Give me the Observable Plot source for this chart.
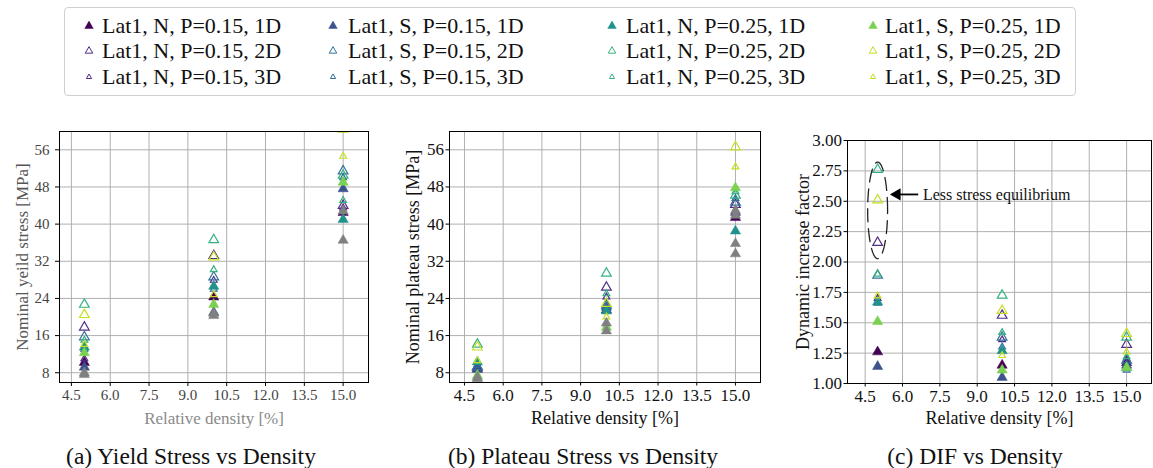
<!DOCTYPE html>
<html><head><meta charset="utf-8">
<script src="https://cdn.jsdelivr.net/npm/d3@7"></script>
<script src="https://cdn.jsdelivr.net/npm/@observablehq/plot@0.6"></script>
<style>
body{margin:0;background:#fff;}
#fig{position:relative;width:1153px;height:468px;overflow:hidden;font-family:"Liberation Serif","Times New Roman",serif;background:#fff;}
#fig svg text{font-family:"Liberation Serif","Times New Roman",serif;}
#legend{position:absolute;left:64px;top:7px;width:1012px;height:89px;border:1px solid #d0d0d0;border-radius:4px;box-sizing:border-box;}
.li{position:absolute;display:flex;align-items:center;height:24px;font-size:22px;color:#111;white-space:nowrap;}
.li svg{flex:none;}
.cap{position:absolute;top:443px;font-size:23.5px;color:#111;white-space:nowrap;transform:translateX(-50%);}
</style></head><body><div id="fig"><div id="legend"></div></div>
<script>
// ---------- data ----------
const densities = [5, 10, 15];                       // relative density [%]
const xTicks = [4.5, 6.0, 7.5, 9.0, 10.5, 12.0, 13.5, 15.0];
const stressTicks = [8, 16, 24, 32, 40, 48, 56];
const difTicks = [1.0, 1.25, 1.5, 1.75, 2.0, 2.25, 2.5, 2.75, 3.0];
const groups = ["Lat1, N, P=0.15", "Lat1, S, P=0.15", "Lat1, N, P=0.25", "Lat1, S, P=0.25"];
const dims = ["1D", "2D", "3D"];
// series index = group*3 + dim  (N015 1D,2D,3D, S015 1D,2D,3D, N025 ..., S025 ...)
const yieldD5  = [10.2, 17.8, 11.0,   9.2, 15.7, 13.0,  13.5, 22.7, 15.0,  12.3, 20.5, 14.1];
const yieldD10 = [24.3, 33.2, 27.9,  21.0, 28.6, 26.0,  26.6, 36.6, 30.2,  22.7, 32.9, 24.8];
const yieldD15 = [42.5, 44.0, 43.5,  47.6, 51.4, 50.0,  41.0, 50.5, 45.1,  49.0, 60.4, 54.6];
const yieldGray = [[8.0, 7.6], [20.3, 20.8], [42.8, 36.5]];
const plateauD5  = [8.9, 9.2, 9.0,   8.7, 9.3, 9.6,   10.3, 14.1, 10.5,  7.4, 13.5, 10.6];
const plateauD10 = [21.5, 26.4, 24.3, 22.1, 22.5, 21.8, 21.3, 29.4, 25.0, 17.8, 22.9, 20.0];
const plateauD15 = [41.4, 44.2, 43.0, 42.5, 44.7, 45.5, 38.5, 46.2, 47.0, 47.8, 56.6, 52.3];
const plateauGray = [[6.7, 7.0], [18.7, 17.0], [42.9, 41.9, 35.8, 33.6]];
const difD5  = [1.26, 2.16, 1.70,  1.14, 1.89, 1.66,  1.67, 2.76, 1.90,  1.51, 2.51, 1.72];
const difD10 = [1.15, 1.56, 1.36,  1.05, 1.38, 1.30,  1.27, 1.726, 1.42, 1.11, 1.60, 1.23];
const difD15 = [1.17, 1.32, 1.20,  1.15, 1.19, 1.11,  1.13, 1.38, 1.22,  1.13, 1.41, 1.26];
const annotationText = "Less stress equilibrium";
const annEllipse = {cx: 5, cy: 2.425, rx: 0.40, ry: 0.397};
const annArrow = {x1: 6.63, x2: 5.62, y: 2.556, tx: 6.82};

// ---------- styles ----------
const filledColors = ["#440154", "#3b528b", "#21918c", "#7ad151"];
const hollowColors = ["#522d88", "#32709b", "#35b27f", "#c6df22"];
const grayColor = "#808080";
const serif = "Liberation Serif, Times New Roman, serif";

const fig = document.getElementById("fig");

// legend
const legend = document.getElementById("legend");
const colMarkerX = [88, 332, 611, 872];
const colTextX = [101, 347, 625, 884];
const rowY = [25, 50, 76];
const legendWidths = [8.5, 7.5, 5.2];
function triPath(w) { const y = w / (2 * Math.sqrt(3)); return d3.symbol(d3.symbolTriangle, 3 * Math.sqrt(3) * y * y)(); }
groups.forEach((g, gi) => dims.forEach((dm, di) => {
  const item = document.createElement("div");
  item.className = "li";
  item.style.left = (colMarkerX[gi] - 64 - 7) + "px";
  item.style.top = (rowY[di] - 7 - 12) + "px";
  const filled = di === 0;
  const c = filled ? filledColors[gi] : hollowColors[gi];
  item.innerHTML = `<svg width="14" height="14" viewBox="-7 -7 14 14"><path d="${triPath(legendWidths[di])}" fill="${filled ? c : "none"}" stroke="${c}" stroke-width="${filled ? 0.5 : 1}"/></svg>` +
    `<span style="margin-left:${colTextX[gi] - colMarkerX[gi] - 7}px">${g}, ${dm}</span>`;
  legend.append(item);
}));

function makePanel(cfg) {
  const marks = [
    Plot.gridX(xTicks, {stroke: "#b0b0b0", strokeOpacity: 1, strokeWidth: 1}),
    Plot.gridY(cfg.yTicks, {stroke: "#b0b0b0", strokeOpacity: 1, strokeWidth: 1})
  ];
  for (let s = 0; s < 12; s++) {
    const g = Math.floor(s / 3), dim = s % 3;
    const data = densities.map((x, i) => ({x, y: cfg.values[i][s]}));
    const opts = {x: "x", y: "y", symbol: "triangle", clip: true};
    if (dim === 0) Object.assign(opts, {r: 3.8, fill: filledColors[g], stroke: filledColors[g], strokeWidth: 0.5});
    else Object.assign(opts, {r: dim === 1 ? 3.6 : 2.5, fill: "none", stroke: hollowColors[g], strokeWidth: 1.2});
    marks.push(Plot.dot(data, opts));
  }
  if (cfg.gray) {
    const data = cfg.gray.flatMap((arr, i) => arr.map(y => ({x: densities[i], y})));
    marks.push(Plot.dot(data, {x: "x", y: "y", symbol: "triangle", r: 3.8, fill: grayColor, stroke: grayColor, strokeWidth: 0.5, clip: true}));
  }
  if (cfg.extra) marks.push(...cfg.extra);
  marks.push(
    Plot.axisX(xTicks, {tickFormat: d => d.toFixed(1), tickSize: cfg.tickSize, tickPadding: cfg.xPad, fontSize: cfg.tickFont, fontFamily: serif, label: null, fill: cfg.tickColor, stroke: "black"}),
    Plot.axisY(cfg.yTicks, {tickFormat: cfg.yFormat, tickSize: cfg.tickSize, tickPadding: cfg.yPad, fontSize: cfg.tickFont, fontFamily: serif, label: null, fill: cfg.tickColor, stroke: "black"}),
    Plot.text([cfg.ylabel], {frameAnchor: "left", rotate: -90, dx: cfg.ylabelDx, textAnchor: "middle", lineAnchor: "middle", fontSize: cfg.labelFont, fill: cfg.ylabelColor, fontFamily: serif}),
    Plot.text([cfg.xlabel], {frameAnchor: "bottom", dy: cfg.xlabelDy, textAnchor: "middle", lineAnchor: "middle", fontSize: cfg.labelFont, fill: cfg.xlabelColor, fontFamily: serif}),
    Plot.frame({stroke: "black", strokeWidth: 1})
  );
  const svg = Plot.plot({
    width: cfg.w, height: cfg.h,
    marginLeft: cfg.m[0], marginRight: cfg.m[1], marginTop: cfg.m[2], marginBottom: cfg.m[3],
    x: {domain: cfg.xDomain},
    y: {domain: cfg.yDomain},
    style: {fontFamily: serif, background: "transparent", overflow: "visible"},
    marks
  });
  svg.style.position = "absolute";
  svg.style.left = cfg.left + "px";
  svg.style.top = cfg.top + "px";
  fig.append(svg);
}

makePanel({
  left: 0, top: 100, w: 390, h: 345, m: [59, 22, 31, 63],
  xDomain: [4.04, 15.98], yDomain: [5.9, 59.94], yTicks: stressTicks, yFormat: d => String(d),
  values: [yieldD5, yieldD10, yieldD15], gray: yieldGray,
  tickSize: 4, xPad: 3, yPad: 6, tickFont: 15, tickColor: "#444",
  ylabel: "Nominal yeild stress [MPa]", ylabelDx: -37, ylabelColor: "#555",
  xlabel: "Relative density [%]", xlabelDy: 36, xlabelColor: "#8a8a8a", labelFont: 17
});
makePanel({
  left: 390, top: 100, w: 400, h: 345, m: [59, 30, 31, 63],
  xDomain: [3.92, 15.97], yDomain: [5.9, 59.94], yTicks: stressTicks, yFormat: d => String(d),
  values: [plateauD5, plateauD10, plateauD15], gray: plateauGray,
  tickSize: 3.5, xPad: 3, yPad: 2, tickFont: 17, tickColor: "#111",
  ylabel: "Nominal plateau stress [MPa]", ylabelDx: -36, ylabelColor: "#111",
  xlabel: "Relative density [%]", xlabelDy: 36, xlabelColor: "#111", labelFont: 18
});

const ellipsePts = d3.range(0, 121).map(i => {
  const t = i / 120 * 2 * Math.PI;
  return {x: annEllipse.cx + annEllipse.rx * Math.cos(t), y: annEllipse.cy + annEllipse.ry * Math.sin(t)};
});
makePanel({
  left: 790, top: 100, w: 363, h: 345, m: [57, 2, 40, 62],
  xDomain: [3.79, 16.0], yDomain: [1.0, 3.0], yTicks: difTicks, yFormat: d => d.toFixed(2),
  values: [difD5, difD10, difD15], gray: null,
  tickSize: 3.5, xPad: 3, yPad: 2, tickFont: 17, tickColor: "#111",
  ylabel: "Dynamic increase factor", ylabelDx: -44, ylabelColor: "#111",
  xlabel: "Relative density [%]", xlabelDy: 35, xlabelColor: "#111", labelFont: 18,
  extra: [
    Plot.line(ellipsePts, {x: "x", y: "y", stroke: "#222", strokeWidth: 1.3, strokeDasharray: "13,7", curve: "linear"}),
    Plot.link([annArrow], {x1: "x1", x2: d => d.x2 + 0.25, y1: "y", y2: "y", stroke: "black", strokeWidth: 1.8}),
    Plot.dot([annArrow], {x: d => d.x2 + 0.16, y: "y", symbol: "triangle", r: 3.6, rotate: -90, fill: "black", stroke: "black"}),
    Plot.text([annArrow], {x: "tx", y: "y", text: () => annotationText, textAnchor: "start", fontSize: 16, fill: "#111", fontFamily: serif})
  ]
});

// captions
[["(a) Yield Stress vs Density", 191], ["(b) Plateau Stress vs Density", 583], ["(c) DIF vs Density", 975]].forEach(([t, cx]) => {
  const d = document.createElement("div");
  d.className = "cap"; d.style.left = cx + "px"; d.textContent = t;
  fig.append(d);
});
</script></body></html>
